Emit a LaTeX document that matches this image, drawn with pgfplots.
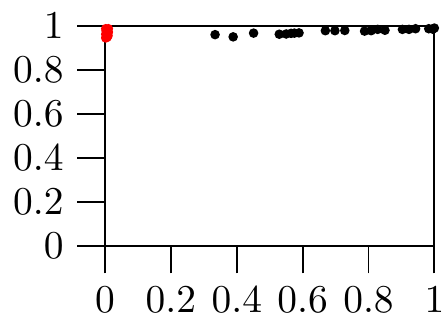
\documentclass[border=0pt]{standalone}
\usepackage{pgfplots}
\pgfplotsset{compat=1.18}
\begin{document}
\begin{tikzpicture}[trim right=(tr)]
\begin{axis}[
  scale only axis,
  width=83.5pt, height=55.75pt,
  xmin=0, xmax=1, ymin=0, ymax=1,
  xtick={0,0.2,0.4,0.6,0.8,1},
  ytick={0,0.2,0.4,0.6,0.8,1},
  xtick pos=bottom, ytick pos=left,
  tick align=outside,
  major tick length=7pt,
  axis line style={line width=0.5pt},
  every tick/.style={black, line width=0.5pt},
  clip=true,
]
\coordinate (tr) at ([xshift=2.7pt]rel axis cs:1,0);
\addplot[only marks, mark=*, mark size=1pt, black] coordinates {
(0.334,0.960) (0.389,0.950) (0.451,0.967) (0.529,0.962) (0.550,0.963)
(0.565,0.966) (0.575,0.967) (0.589,0.968) (0.669,0.978) (0.698,0.978)
(0.728,0.979) (0.788,0.976) (0.808,0.978) (0.828,0.984) (0.850,0.980)
(0.903,0.984) (0.923,0.984) (0.943,0.987) (0.983,0.987) (0.995,0.985)
(1.0,0.99)
};
\addplot[only marks, mark=*, mark size=1pt, red, mark options={draw=red, fill=red}] coordinates {
(0.002,0.945) (0.004,0.952) (0.006,0.958) (0.008,0.965) (0.010,0.972)
(0.003,0.978) (0.007,0.983) (0.010,0.987) (0.002,0.987) (0.006,0.948)
(0.009,0.955) (0.002,0.962) (0.005,0.970)
};
\end{axis}
\end{tikzpicture}
\end{document}
